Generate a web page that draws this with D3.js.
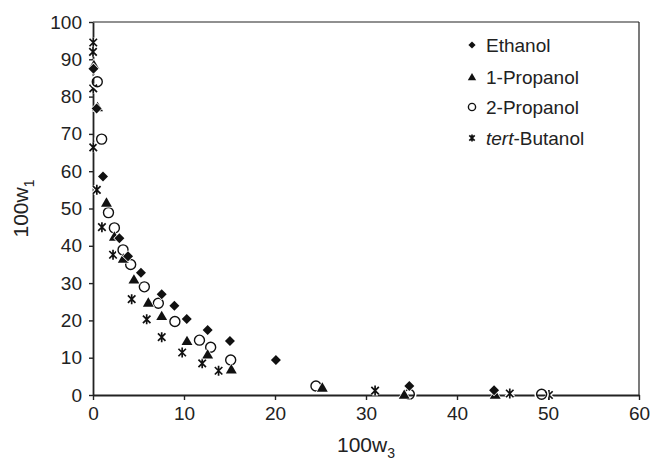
<!DOCTYPE html>
<html>
<head>
<meta charset="utf-8">
<script src="https://cdn.jsdelivr.net/npm/d3@7"></script>
<style>
  html, body { margin: 0; padding: 0; background: #fff; }
  svg { display: block; font-family: "Liberation Sans", Arial, Helvetica, sans-serif; }
</style>
</head>
<body>
<svg id="chart" width="651" height="463"></svg>
<script>
// Solubility curve: 100w1 vs 100w3 for four alcohols
const xTicks = [0, 10, 20, 30, 40, 50, 60];
const yTicks = [0, 10, 20, 30, 40, 50, 60, 70, 80, 90, 100];

const ethanol = [
  [0.05, 87.5], [0.4, 76.8], [1.1, 58.6], [2.9, 42.0], [3.85, 37.2], [5.27, 32.8],
  [7.55, 27.0], [8.94, 23.9], [10.3, 20.4], [12.6, 17.4], [15.05, 14.5],
  [20.1, 9.4], [34.76, 2.4], [44.07, 1.3]
];
const propanol1 = [
  [0.1, 88.5], [0.5, 77.2], [1.48, 51.6], [2.35, 42.5], [3.33, 36.6], [4.5, 31.0],
  [6.08, 24.8], [7.55, 21.2], [10.33, 14.5], [12.6, 10.9], [15.2, 6.9],
  [25.2, 2.0], [34.2, 0.1], [44.2, 0.1]
];
const propanol2 = [
  [0.47, 84.0], [0.95, 68.6], [1.7, 48.9], [2.35, 44.8], [3.3, 38.9], [4.14, 35.0],
  [5.64, 29.0], [7.18, 24.6], [9.0, 19.7], [11.7, 14.7], [12.93, 12.8],
  [15.13, 9.4], [24.5, 2.4], [34.76, 0.2], [49.3, 0.2]
];
const tertButanol = [
  [0.03, 94.5], [0.0, 92.0], [0.03, 82.2], [0.03, 66.4], [0.42, 55.0], [0.98, 45.0],
  [2.2, 37.6], [4.25, 25.7], [5.9, 20.3], [7.55, 15.5], [9.8, 11.4],
  [12.0, 8.5], [13.8, 6.5], [31.0, 1.2], [45.8, 0.4], [50.1, 0.0]
];

const seriesNames = ["Ethanol", "1-Propanol", "2-Propanol", "tert-Butanol"];

const svg = d3.select("#chart");
const W = 651, H = 463;
const margin = { top: 22, right: 12, bottom: 68, left: 93 };
const iw = W - margin.left - margin.right;
const ih = H - margin.top - margin.bottom;

const x = d3.scaleLinear().domain([0, 60]).range([0, iw]);
const y = d3.scaleLinear().domain([0, 100]).range([ih, 0]);

const g = svg.append("g").attr("transform", `translate(${margin.left},${margin.top})`);

// frame: top and right edges
g.append("line").attr("x1", 0).attr("x2", iw).attr("y1", 0).attr("y2", 0)
  .attr("stroke", "#222").attr("stroke-width", 1.2);
g.append("line").attr("x1", iw).attr("x2", iw).attr("y1", 0).attr("y2", ih)
  .attr("stroke", "#222").attr("stroke-width", 1.2);

const xAxis = g.append("g").attr("transform", `translate(0,${ih})`)
  .call(d3.axisBottom(x).tickValues(xTicks).tickSize(5).tickSizeOuter(0).tickPadding(7));
const yAxis = g.append("g")
  .call(d3.axisLeft(y).tickValues(yTicks).tickSize(4).tickSizeOuter(0).tickPadding(7));

[xAxis, yAxis].forEach(a => {
  a.select(".domain").attr("stroke", "#222").attr("stroke-width", 1.8);
  a.selectAll(".tick line").attr("stroke", "#222").attr("stroke-width", 1.4);
  a.selectAll(".tick text").attr("fill", "#222").style("font-size", "19px")
    .style("font-family", "'Liberation Sans', Arial, sans-serif");
});

// axis titles
const xt = svg.append("text").attr("x", margin.left + iw / 2).attr("y", 452)
  .attr("text-anchor", "middle").attr("fill", "#222").style("font-size", "21px");
xt.append("tspan").text("100w");
xt.append("tspan").attr("dy", 6).style("font-size", "14px").text("3");

const yt = svg.append("text")
  .attr("transform", `translate(28,${margin.top + ih / 2}) rotate(-90)`)
  .attr("text-anchor", "middle").attr("fill", "#222").style("font-size", "21px");
yt.append("tspan").text("100w");
yt.append("tspan").attr("dy", 6).style("font-size", "14px").text("1");

// marker shapes (s = half-size)
function diamondPath(s) { return `M0,${-s}L${s},0L0,${s}L${-s},0Z`; }
function trianglePath(s) { return `M0,${-s}L${s * 1.05},${s * 0.8}L${-s * 1.05},${s * 0.8}Z`; }
function starPath(s) {
  const d = s * 0.75;
  return `M${-d},${-d}L${d},${d}M${-d},${d}L${d},${-d}M0,${-s}L0,${s}`;
}

function drawMarker(sel, kind, s) {
  if (kind === 0) {
    sel.append("path").attr("d", diamondPath(s)).attr("fill", "#111")
      .attr("stroke", "#fff").attr("stroke-width", 1.5).attr("paint-order", "stroke");
  } else if (kind === 1) {
    sel.append("path").attr("d", trianglePath(s)).attr("fill", "#111")
      .attr("stroke", "#fff").attr("stroke-width", 1.5).attr("paint-order", "stroke");
  } else if (kind === 2) {
    sel.append("circle").attr("r", s + 1.2).attr("fill", "none")
      .attr("stroke", "#fff").attr("stroke-width", 2.2);
    sel.append("circle").attr("r", s).attr("fill", "none")
      .attr("stroke", "#111").attr("stroke-width", 1.4);
  } else {
    sel.append("path").attr("d", starPath(s)).attr("fill", "none")
      .attr("stroke", "#fff").attr("stroke-width", 4);
    sel.append("path").attr("d", starPath(s)).attr("fill", "none")
      .attr("stroke", "#111").attr("stroke-width", 1.7);
  }
}

const allSeries = [ethanol, propanol1, propanol2, tertButanol];
const plotSizes = [5, 5.2, 5, 5];
const drawOrder = [3, 2, 1, 0];

const marks = g.append("g");
drawOrder.forEach(k => {
  marks.selectAll(null).data(allSeries[k]).enter().append("g")
    .attr("transform", d => `translate(${x(d[0])},${y(d[1])})`)
    .each(function () { drawMarker(d3.select(this), k, plotSizes[k]); });
});

// legend
const legendY = [45, 77, 107, 138];
const legendSizes = [3.6, 4, 3.6, 3.6];
const legend = svg.append("g");
seriesNames.forEach((name, i) => {
  const row = legend.append("g").attr("transform", `translate(472,${legendY[i]})`);
  drawMarker(row, i, legendSizes[i]);
  const t = row.append("text").attr("x", 14).attr("y", 7).attr("fill", "#222")
    .style("font-size", "19px");
  if (name.startsWith("tert-")) {
    t.append("tspan").style("font-style", "italic").text("tert");
    t.append("tspan").text(name.slice(4));
  } else {
    t.text(name);
  }
});
</script>
</body>
</html>
